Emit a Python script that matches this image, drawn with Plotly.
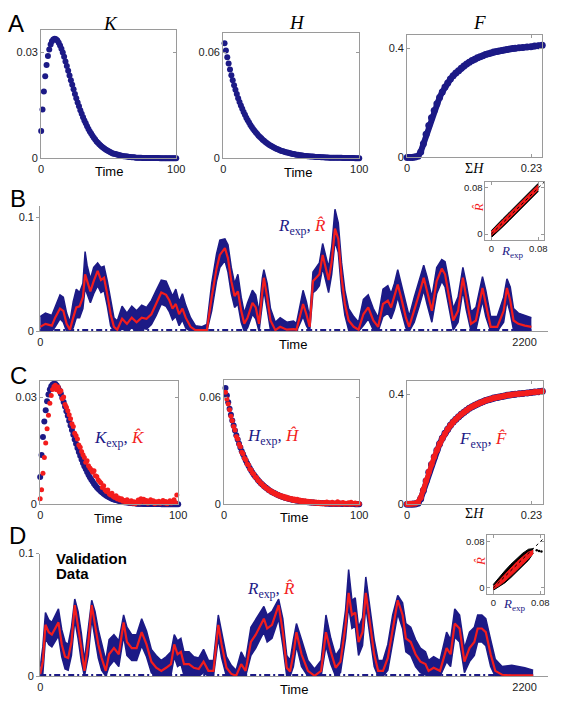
import plotly.graph_objects as go

W, H = 562, 704
NAVY = "#1c1a86"
RED = "#f31d1d"
GRAY = "#9a9a9a"
SANS = "Liberation Sans, Arial, sans-serif"
SERIF = "Liberation Serif, Times New Roman, serif"

# ---------------- Panel A / C data ----------------
K_exp = [0.0077, 0.0138, 0.0189, 0.0232, 0.0264, 0.0289, 0.0308, 0.0322, 0.0331, 0.0336, 0.0338,
         0.0337, 0.0333, 0.0327, 0.0319, 0.0310, 0.0299, 0.0287, 0.0274, 0.0261, 0.0248,
         0.0234, 0.0221, 0.0208, 0.0195, 0.0182, 0.0170, 0.0158, 0.0147, 0.0136, 0.0126,
         0.0116, 0.0107, 0.0099, 0.0091, 0.0083, 0.0076, 0.0070, 0.0064, 0.0058, 0.0053,
         0.0048, 0.0044, 0.0040, 0.0036, 0.0033, 0.0030, 0.0027, 0.0024, 0.0022, 0.0020,
         0.0018, 0.0016, 0.0014, 0.0013, 0.0012, 0.0011, 0.0010, 0.0009, 0.0008, 0.0007,
         0.0006, 0.0006, 0.0005, 0.0005, 0.0004, 0.0004, 0.0003, 0.0003, 0.0003, 0.0002,
         0.0002, 0.0002, 0.0002, 0.0002, 0.0001, 0.0001, 0.0001, 0.0001, 0.0001, 0.0001,
         0.0001, 0.0001, 0.0001, 0.0001, 0.0001, 0.0001, 0.0001, 0.0, 0.0, 0.0,
         0.0, 0.0, 0.0, 0.0, 0.0, 0.0, 0.0, 0.0, 0.0, 0.0]
t_K = list(range(len(K_exp)))

K_hat = [0.0016, 0.0041, 0.0087, 0.0131, 0.0172, 0.0212, 0.0250, 0.0283, 0.0305, 0.0322, 0.0330,
         0.0334, 0.0321, 0.0329, 0.0315, 0.0318, 0.0296, 0.0301, 0.0280, 0.0272, 0.0262,
         0.0251, 0.0240, 0.0226, 0.0218, 0.0199, 0.0192, 0.0183, 0.0166, 0.0160, 0.0148,
         0.0139, 0.0131, 0.0118, 0.0122, 0.0108, 0.0102, 0.0097, 0.0090, 0.0094, 0.0080,
         0.0078, 0.0069, 0.0064, 0.0060, 0.0047, 0.0052, 0.0040, 0.0036, 0.0040, 0.0030,
         0.0026, 0.0031, 0.0022, 0.0019, 0.0024, 0.0015, 0.0018, 0.0012, 0.0016, 0.0009,
         0.0011, 0.0006, 0.0013, 0.0008, 0.0004, 0.0010, 0.0003, 0.0007, 0.0002, 0.0005,
         0.0012, 0.0004, 0.0016, 0.0009, 0.0014, 0.0006, 0.0011, 0.0003, 0.0008, 0.0013,
         0.0005, 0.0010, 0.0002, 0.0007, 0.0004, 0.0009, 0.0003, 0.0006, 0.0011, 0.0004,
         0.0008, 0.0002, 0.0006, 0.0010, 0.0004, 0.0007, 0.0013, 0.0005, 0.0026]
t_Khat = list(range(len(K_hat)))

H_exp = [0.0651, 0.0610, 0.0572, 0.0536, 0.0502, 0.0470, 0.0441, 0.0413, 0.0387, 0.0363,
         0.0340, 0.0318, 0.0298, 0.0280, 0.0262, 0.0246, 0.0230, 0.0216, 0.0202, 0.0189,
         0.0177, 0.0166, 0.0156, 0.0146, 0.0137, 0.0128, 0.0120, 0.0113, 0.0105, 0.0099,
         0.0093, 0.0087, 0.0081, 0.0076, 0.0071, 0.0067, 0.0063, 0.0059, 0.0055, 0.0052,
         0.0048, 0.0045, 0.0042, 0.0040, 0.0037, 0.0035, 0.0033, 0.0031, 0.0029, 0.0027,
         0.0025, 0.0024, 0.0022, 0.0021, 0.0020, 0.0018, 0.0017, 0.0016, 0.0015, 0.0014,
         0.0013, 0.0012, 0.0012, 0.0011, 0.0010, 0.0010, 0.0009, 0.0008, 0.0008, 0.0007,
         0.0007, 0.0006, 0.0006, 0.0006, 0.0005, 0.0005, 0.0005, 0.0004, 0.0004, 0.0004,
         0.0003, 0.0003, 0.0003, 0.0003, 0.0003, 0.0003, 0.0003, 0.0002, 0.0002, 0.0002,
         0.0002, 0.0002, 0.0002, 0.0002, 0.0002, 0.0002, 0.0001, 0.0001, 0.0001, 0.0001]
t_H = list(range(1, len(H_exp) + 1))

H_hat = [0.0628, 0.0590, 0.0562, 0.0530, 0.0494, 0.0468, 0.0436, 0.0416, 0.0380, 0.0366,
         0.0336, 0.0322, 0.0292, 0.0284, 0.0258, 0.0250, 0.0226, 0.0220, 0.0198, 0.0193,
         0.0174, 0.0170, 0.0152, 0.0150, 0.0133, 0.0131, 0.0117, 0.0116, 0.0102, 0.0101,
         0.0090, 0.0089, 0.0078, 0.0079, 0.0068, 0.0070, 0.0060, 0.0062, 0.0052, 0.0055,
         0.0046, 0.0050, 0.0040, 0.0045, 0.0034, 0.0041, 0.0030, 0.0036, 0.0027, 0.0033,
         0.0022, 0.0030, 0.0020, 0.0028, 0.0017, 0.0024, 0.0015, 0.0022, 0.0012, 0.0020,
         0.0010, 0.0018, 0.0009, 0.0016, 0.0007, 0.0015, 0.0006, 0.0013, 0.0005, 0.0012,
         0.0004, 0.0011, 0.0003, 0.0010, 0.0002, 0.0013, 0.0003, 0.0009, 0.0002, 0.0012,
         0.0001, 0.0008, 0.0002, 0.0014, 0.0001, 0.0007, 0.0003, 0.0011, 0.0001, 0.0006,
         0.0002, 0.0009, 0.0001, 0.0012, 0.0002, 0.0005, 0.0008, 0.0001, 0.0004, 0.0003]

SumH = [0.000, 0.005, 0.010, 0.015, 0.020, 0.025, 0.030, 0.035, 0.040, 0.045, 0.050,
        0.055, 0.060, 0.065, 0.070, 0.075, 0.080, 0.085, 0.090, 0.095, 0.100,
        0.105, 0.110, 0.115, 0.120, 0.125, 0.130, 0.135, 0.140, 0.145, 0.150,
        0.155, 0.160, 0.165, 0.170, 0.175, 0.180, 0.185, 0.190, 0.195, 0.200,
        0.207, 0.214, 0.222, 0.229, 0.236, 0.243, 0.250]
F_exp = [0.000, 0.000, 0.000, 0.001, 0.004, 0.020, 0.050, 0.085, 0.117, 0.145, 0.172,
         0.197, 0.220, 0.240, 0.258, 0.273, 0.287, 0.299, 0.309, 0.318, 0.327,
         0.335, 0.342, 0.349, 0.355, 0.360, 0.365, 0.369, 0.373, 0.377, 0.380,
         0.383, 0.386, 0.388, 0.390, 0.392, 0.394, 0.396, 0.397, 0.399, 0.400,
         0.402, 0.403, 0.405, 0.406, 0.408, 0.409, 0.411]
F_hat = [0.001, 0.001, 0.002, 0.003, 0.008, 0.024, 0.053, 0.087, 0.118, 0.146, 0.173,
         0.197, 0.220, 0.240, 0.257, 0.273, 0.287, 0.299, 0.309, 0.318, 0.327,
         0.335, 0.342, 0.349, 0.355, 0.360, 0.365, 0.369, 0.373, 0.377, 0.380,
         0.383, 0.386, 0.388, 0.390, 0.392, 0.394, 0.396, 0.397, 0.399, 0.400,
         0.402, 0.403, 0.405, 0.406, 0.408, 0.409, 0.411]

# ---------------- Panel B data (training) ----------------
tB = [0, 24, 53, 68, 90, 105, 120, 135, 150, 164, 179, 194, 204, 213, 228, 243, 261, 276, 290, 305,
      320, 335, 350, 372, 394, 416, 438, 461, 483, 505, 527, 550, 572, 587, 601, 616, 631, 646, 661, 683,
      705, 735, 757, 779, 801, 816, 839, 853, 868, 883, 898, 913, 927, 942, 964, 979, 994, 1009, 1016, 1031,
      1046, 1068, 1090, 1120, 1150, 1164, 1194, 1209, 1224, 1239, 1253, 1268, 1283, 1298, 1310, 1324, 1339, 1354, 1369, 1384,
      1401, 1424, 1446, 1468, 1490, 1513, 1535, 1557, 1579, 1594, 1609, 1624, 1639, 1661, 1676, 1699, 1720, 1742, 1757, 1779,
      1801, 1824, 1839, 1853, 1876, 1898, 1920, 1935, 1957, 1979, 2009, 2024, 2046, 2076, 2105, 2120, 2135, 2150, 2172, 2201, 2231]
RB_hat = [0.004, 0.0066, 0.005, 0.012, 0.020, 0.018, 0.0066, 0.0015, 0.012, 0.021, 0.022, 0.030, 0.050, 0.044, 0.035, 0.044, 0.053, 0.045, 0.047, 0.032,
          0.015, 0.004, 0.0015, 0.011, 0.0066, 0.012, 0.008, 0.012, 0.011, 0.015, 0.024, 0.034, 0.032, 0.027, 0.020, 0.024, 0.015, 0.020, 0.012, 0.004,
          0.001, 0.001, 0.001, 0.030, 0.055, 0.067, 0.073, 0.064, 0.044, 0.031, 0.035, 0.018, 0.0066, 0.012, 0.025, 0.021, 0.0066, 0.035, 0.047, 0.030,
          0.0095, 0.001, 0.004, 0.0015, 0.002, 0.0015, 0.024, 0.015, 0.004, 0.044, 0.047, 0.050, 0.067, 0.053, 0.045, 0.061, 0.090, 0.081, 0.047, 0.024,
          0.0095, 0.004, 0.0015, 0.015, 0.021, 0.0095, 0.004, 0.024, 0.027, 0.021, 0.030, 0.041, 0.030, 0.012, 0.004, 0.018, 0.032, 0.047, 0.035, 0.018,
          0.044, 0.055, 0.050, 0.035, 0.0095, 0.018, 0.047, 0.030, 0.0066, 0.0095, 0.038, 0.024, 0.004, 0.004, 0.018, 0.038, 0.027, 0.0095, 0.0066, 0.005, 0.004]
RB_exp_hi = [0.013, 0.016, 0.014, 0.022, 0.032, 0.030, 0.016, 0.008, 0.026, 0.037, 0.034, 0.042, 0.070, 0.058, 0.046, 0.056, 0.060, 0.056, 0.057, 0.044,
             0.026, 0.012, 0.009, 0.022, 0.016, 0.022, 0.018, 0.023, 0.021, 0.027, 0.036, 0.045, 0.044, 0.038, 0.031, 0.037, 0.026, 0.033, 0.023, 0.012,
             0.005, 0.004, 0.006, 0.042, 0.068, 0.080, 0.081, 0.076, 0.056, 0.042, 0.050, 0.030, 0.016, 0.025, 0.036, 0.032, 0.017, 0.047, 0.054, 0.042,
             0.020, 0.008, 0.012, 0.008, 0.009, 0.007, 0.036, 0.026, 0.012, 0.052, 0.056, 0.060, 0.077, 0.064, 0.056, 0.074, 0.107, 0.095, 0.060, 0.036,
             0.020, 0.013, 0.008, 0.028, 0.032, 0.020, 0.012, 0.037, 0.040, 0.033, 0.042, 0.054, 0.042, 0.023, 0.013, 0.030, 0.044, 0.058, 0.048, 0.030,
             0.056, 0.063, 0.061, 0.047, 0.020, 0.030, 0.056, 0.042, 0.017, 0.021, 0.048, 0.036, 0.013, 0.013, 0.030, 0.046, 0.039, 0.020, 0.016, 0.014, 0.012]
RB_exp_lo = [0.000, 0.000, 0.000, 0.004, 0.011, 0.008, 0.000, 0.000, 0.003, 0.012, 0.012, 0.020, 0.038, 0.033, 0.025, 0.033, 0.040, 0.034, 0.036, 0.022,
             0.005, 0.000, 0.000, 0.002, 0.000, 0.003, 0.000, 0.003, 0.002, 0.006, 0.014, 0.024, 0.022, 0.017, 0.010, 0.013, 0.005, 0.010, 0.003, 0.000,
             0.000, 0.000, 0.000, 0.018, 0.044, 0.056, 0.062, 0.052, 0.033, 0.021, 0.024, 0.008, 0.000, 0.003, 0.015, 0.011, 0.000, 0.024, 0.036, 0.019,
             0.001, 0.000, 0.000, 0.000, 0.000, 0.000, 0.013, 0.005, 0.000, 0.034, 0.036, 0.040, 0.056, 0.042, 0.034, 0.050, 0.079, 0.069, 0.035, 0.014,
             0.001, 0.000, 0.000, 0.005, 0.011, 0.001, 0.000, 0.013, 0.016, 0.011, 0.019, 0.030, 0.019, 0.003, 0.000, 0.008, 0.021, 0.036, 0.024, 0.008,
             0.033, 0.044, 0.039, 0.024, 0.001, 0.008, 0.036, 0.019, 0.000, 0.001, 0.027, 0.013, 0.000, 0.000, 0.008, 0.027, 0.016, 0.001, 0.000, 0.000, 0.000]
zero_t = [0, 2231]
zero_v = [0.0008, 0.0008]

# ---------------- Panel D data (validation) ----------------
tD = [0, 12, 24, 39, 53, 68, 83, 98, 113, 127, 142, 157, 172, 187, 201, 219, 234, 249, 264, 279,
      298, 313, 335, 357, 379, 394, 416, 438, 461, 483, 505, 527, 550, 572, 594, 609, 624, 639, 653, 676,
      698, 720, 742, 764, 787, 809, 824, 846, 868, 890, 913, 933, 957, 979, 1001, 1016, 1031, 1053, 1083, 1102,
      1120, 1135, 1150, 1164, 1187, 1216, 1246, 1276, 1298, 1320, 1342, 1364, 1387, 1401, 1416, 1431, 1446, 1464, 1479, 1498,
      1517, 1535, 1557, 1579, 1601, 1624, 1646, 1661, 1683, 1705, 1727, 1750, 1764, 1787, 1816, 1846, 1864, 1883, 1905, 1927,
      1950, 1972, 1987, 2006, 2024, 2046, 2067, 2098, 2142, 2201, 2239]
RD_hat = [0.002, 0.012, 0.042, 0.036, 0.034, 0.039, 0.044, 0.026, 0.016, 0.015, 0.028, 0.058, 0.042, 0.023, 0.0045, 0.028, 0.058, 0.042, 0.026, 0.015,
          0.0045, 0.018, 0.023, 0.018, 0.044, 0.028, 0.023, 0.023, 0.036, 0.026, 0.012, 0.007, 0.0045, 0.007, 0.010, 0.026, 0.018, 0.020, 0.010, 0.010,
          0.007, 0.006, 0.012, 0.0045, 0.0045, 0.042, 0.026, 0.007, 0.002, 0.0005, 0.010, 0.0045, 0.028, 0.034, 0.042, 0.047, 0.039, 0.042, 0.058, 0.036,
          0.007, 0.004, 0.018, 0.036, 0.018, 0.0045, 0.0005, 0.0045, 0.036, 0.020, 0.007, 0.012, 0.042, 0.068, 0.050, 0.052, 0.028, 0.036, 0.068, 0.044,
          0.018, 0.0045, 0.0045, 0.015, 0.039, 0.062, 0.050, 0.031, 0.028, 0.018, 0.012, 0.010, 0.0045, 0.007, 0.0045, 0.023, 0.018, 0.043, 0.039, 0.012,
          0.023, 0.028, 0.039, 0.039, 0.036, 0.018, 0.0045, 0.0013, 0.0008, 0.0008, 0.0008]
RD_exp_hi = [0.008, 0.024, 0.052, 0.046, 0.044, 0.050, 0.055, 0.038, 0.028, 0.026, 0.040, 0.063, 0.053, 0.035, 0.013, 0.040, 0.062, 0.053, 0.038, 0.027,
             0.013, 0.030, 0.034, 0.029, 0.050, 0.040, 0.034, 0.034, 0.047, 0.037, 0.022, 0.017, 0.013, 0.016, 0.020, 0.034, 0.029, 0.031, 0.020, 0.020,
             0.016, 0.015, 0.022, 0.013, 0.013, 0.050, 0.037, 0.016, 0.009, 0.005, 0.020, 0.013, 0.040, 0.046, 0.053, 0.057, 0.050, 0.053, 0.063, 0.047,
             0.017, 0.013, 0.030, 0.043, 0.030, 0.013, 0.006, 0.013, 0.050, 0.031, 0.017, 0.023, 0.054, 0.087, 0.062, 0.064, 0.040, 0.048, 0.081, 0.056,
             0.030, 0.013, 0.013, 0.026, 0.050, 0.066, 0.060, 0.043, 0.040, 0.030, 0.023, 0.020, 0.013, 0.016, 0.013, 0.036, 0.030, 0.055, 0.050, 0.023,
             0.036, 0.040, 0.050, 0.050, 0.047, 0.030, 0.014, 0.008, 0.009, 0.007, 0.005]
RD_exp_lo = [0.000, 0.002, 0.031, 0.026, 0.024, 0.028, 0.033, 0.016, 0.006, 0.005, 0.017, 0.046, 0.031, 0.012, 0.000, 0.017, 0.047, 0.031, 0.015, 0.005,
             0.000, 0.008, 0.013, 0.008, 0.033, 0.017, 0.013, 0.013, 0.025, 0.016, 0.003, 0.000, 0.000, 0.000, 0.001, 0.016, 0.008, 0.010, 0.001, 0.001,
             0.000, 0.000, 0.003, 0.000, 0.000, 0.031, 0.015, 0.000, 0.000, 0.000, 0.001, 0.000, 0.017, 0.023, 0.031, 0.036, 0.028, 0.031, 0.047, 0.025,
             0.000, 0.000, 0.008, 0.025, 0.008, 0.000, 0.000, 0.000, 0.025, 0.010, 0.000, 0.003, 0.031, 0.057, 0.039, 0.041, 0.017, 0.025, 0.057, 0.033,
             0.008, 0.000, 0.000, 0.005, 0.028, 0.051, 0.039, 0.020, 0.017, 0.008, 0.003, 0.001, 0.000, 0.000, 0.000, 0.012, 0.008, 0.032, 0.028, 0.003,
             0.012, 0.017, 0.028, 0.028, 0.025, 0.008, 0.000, 0.000, 0.000, 0.000, 0.000]
zeroD_t = [0, 2239]

# ---------------- Inset scatter bands (R_exp vs R_hat) ----------------
insB_x = [0.000, 0.010, 0.020, 0.030, 0.040, 0.050, 0.060, 0.070, 0.080]
insB_black_lo = [-0.006, 0.003, 0.013, 0.023, 0.033, 0.043, 0.053, 0.063, 0.074]
insB_black_hi = [0.006, 0.017, 0.027, 0.037, 0.047, 0.057, 0.067, 0.077, 0.088]
insB_red_lo = [-0.002, 0.006, 0.016, 0.026, 0.036, 0.046, 0.056, 0.066, 0.077]
insB_red_hi = [0.004, 0.014, 0.024, 0.034, 0.044, 0.054, 0.064, 0.074, 0.085]

insD_x = [0.000, 0.010, 0.020, 0.030, 0.040, 0.050, 0.060, 0.068]
insD_black_lo = [-0.004, 0.002, 0.009, 0.018, 0.028, 0.038, 0.048, 0.060]
insD_black_hi = [0.006, 0.019, 0.030, 0.041, 0.051, 0.060, 0.067, 0.068]
insD_red_lo = [-0.002, 0.004, 0.012, 0.021, 0.031, 0.041, 0.051, 0.059]
insD_red_hi = [0.002, 0.013, 0.024, 0.035, 0.045, 0.054, 0.062, 0.065]
insD_out_x = [0.074, 0.078, 0.082]
insD_out_y = [0.065, 0.064, 0.063]
diag = [0.0, 0.09]

fig = go.Figure()
layout = {}


def add_axes(n, xpx, ypx, xr, yr, xt, xtt, yt, ytt, box, fs=11):
    xk = "xaxis" if n == 1 else f"xaxis{n}"
    yk = "yaxis" if n == 1 else f"yaxis{n}"
    xa = dict(domain=[xpx[0] / W, xpx[1] / W], range=xr, anchor="y" if n == 1 else f"y{n}",
              tickvals=xt, ticktext=xtt, showgrid=False, zeroline=False, showline=True,
              linecolor=GRAY, linewidth=1, tickfont=dict(size=fs, family=SANS, color="#222"))
    ya = dict(domain=[1 - ypx[1] / H, 1 - ypx[0] / H], range=yr, anchor="x" if n == 1 else f"x{n}",
              tickvals=yt, ticktext=ytt, showgrid=False, zeroline=False, showline=True,
              linecolor=GRAY, linewidth=1, tickfont=dict(size=fs, family=SANS, color="#222"))
    if box:
        for a in (xa, ya):
            a.update(mirror="ticks", ticks="inside", ticklen=3, tickcolor=GRAY)
    else:
        xa.update(ticks="")
        ya.update(ticks="outside", ticklen=3, tickcolor=GRAY)
    layout[xk] = xa
    layout[yk] = ya


def ax(n):
    return ("x", "y") if n == 1 else (f"x{n}", f"y{n}")


def dots(n, x, y, color, size, lw=0):
    xa, ya = ax(n)
    fig.add_trace(go.Scatter(x=x, y=y, mode="lines+markers" if lw else "markers", xaxis=xa, yaxis=ya,
                             cliponaxis=False, line=dict(color=color, width=lw),
                             marker=dict(color=color, size=size, line=dict(width=0)), hoverinfo="skip"))


def band(n, x, lo, hi, color, lw=1.0):
    xa, ya = ax(n)
    fig.add_trace(go.Scatter(x=x, y=lo, mode="lines", xaxis=xa, yaxis=ya,
                             line=dict(color=color, width=lw), hoverinfo="skip"))
    fig.add_trace(go.Scatter(x=x, y=hi, mode="lines", xaxis=xa, yaxis=ya, fill="tonexty",
                             fillcolor=color, line=dict(color=color, width=lw), hoverinfo="skip"))


def line(n, x, y, color, width, dash=None):
    xa, ya = ax(n)
    fig.add_trace(go.Scatter(x=x, y=y, mode="lines", xaxis=xa, yaxis=ya,
                             line=dict(color=color, width=width, dash=dash), hoverinfo="skip"))


# Axes
add_axes(1, (39, 177), (24, 155), [0, 100], [0, 0.0364], [0, 100], ["0", "100"], [0, 0.03], ["0", "0.03"], True)
add_axes(2, (225, 364), (27, 155), [0, 100], [0, 0.0711], [0, 100], ["0", "100"], [0, 0.06], ["0", "0.06"], True)
add_axes(3, (413, 551), (30, 154), [0, 0.25], [0, 0.447], [0, 0.23], ["0", "0.23"], [0, 0.4], ["0", "0.4"], True)
add_axes(4, (38, 557), (203, 331), [0, 2307], [0, 0.1103], [0, 2200], ["0", "2200"], [0, 0.1], ["0", "0.1"], False)
add_axes(5, (493, 553), (179, 238), [-0.01, 0.09], [-0.0102, 0.0903], [0, 0.08], ["0", "0.08"], [0, 0.08], ["0", "0.08"], True, 9.5)
add_axes(6, (38, 179), (381, 507), [0, 100], [0, 0.0347], [0, 100], ["0", "100"], [0, 0.03], ["0", "0.03"], True)
add_axes(7, (226, 364), (380, 507), [0, 100], [0, 0.0699], [0, 100], ["0", "100"], [0, 0.06], ["0", "0.06"], True)
add_axes(8, (413, 552), (381, 507), [0, 0.2517], [0, 0.45], [0, 0.23], ["0", "0.23"], [0, 0.4], ["0", "0.4"], True)
add_axes(9, (38, 557), (557, 682), [0, 2307], [0, 0.1001], [0, 2200], ["0", "2200"], [0, 0.1], ["0", "0.1"], False)
add_axes(10, (495, 553), (538, 598), [-0.01, 0.0867], [-0.0102, 0.0919], [0, 0.08], ["0", "0.08"], [0, 0.08], ["0", "0.08"], True, 9.5)

# Panel A
dots(1, t_K, K_exp, NAVY, 6)
dots(2, t_H, H_exp, NAVY, 6)
dots(3, SumH, F_exp, NAVY, 7, lw=6)

# Panel B
band(4, tB, RB_exp_lo, RB_exp_hi, NAVY, 1.5)
line(4, zero_t, zero_v, NAVY, 3, "6px,3px,2px,3px")
line(4, tB, RB_hat, RED, 2.2)
band(5, insB_x, insB_black_lo, insB_black_hi, "black", 1)
band(5, insB_x, insB_red_lo, insB_red_hi, RED, 1)
line(5, diag, diag, "black", 1, "dot")

# Panel C
dots(6, t_K, K_exp, NAVY, 6)
dots(6, t_Khat, K_hat, RED, 5)
dots(7, t_H, H_exp, NAVY, 6)
dots(7, t_H, H_hat, RED, 5)
dots(8, SumH, F_exp, NAVY, 7, lw=6)
dots(8, SumH, F_hat, RED, 6, lw=5)

# Panel D
band(9, tD, RD_exp_lo, RD_exp_hi, NAVY, 1.5)
line(9, zeroD_t, zero_v, NAVY, 3, "6px,3px,2px,3px")
line(9, tD, RD_hat, RED, 2.2)
band(10, insD_x, insD_black_lo, insD_black_hi, "black", 1)
band(10, insD_x, insD_red_lo, insD_red_hi, RED, 1)
line(10, diag, diag, "black", 1, "dot")
dots(10, insD_out_x, insD_out_y, "black", 2.5)

# Annotations
anns = []


def ann(text, x, y, size, color="black", family=SANS, xanchor="center", angle=0):
    anns.append(dict(text=text, x=x / W, y=1 - y / H, xref="paper", yref="paper", showarrow=False,
                     xanchor=xanchor, yanchor="middle", textangle=angle,
                     font=dict(size=size, color=color, family=family)))


HAT = "\u0302"
for letter, (lx, ly) in {"A": (13, 18), "B": (15, 196), "C": (16, 376), "D": (15, 539)}.items():
    ann(letter, lx, ly, 24)
ann("<i>K</i>", 110, 18, 19, family=SERIF)
ann("<i>H</i>", 300, 17, 19, family=SERIF)
ann("<i>F</i>", 487, 17, 19, family=SERIF)
for (x, y) in [(108, 168), (301, 169), (296, 344), (107, 521), (297, 520), (297, 695)]:
    ann("Time", x, y, 13)
ann("Σ<i>H</i>", 482, 165, 14, family=SERIF)
ann("Σ<i>H</i>", 482, 516, 14, family=SERIF)


def pair(sym):
    return (f'<i>{sym}</i><sub>exp</sub>, '
            f'<span style="color:{RED}"><i>{sym}{HAT}</i></span>')


ann(pair("R"), 279, 225, 17, NAVY, SERIF, xanchor="left")
ann(pair("K"), 91, 440, 17, NAVY, SERIF, xanchor="left")
ann(pair("H"), 247, 438, 17, NAVY, SERIF, xanchor="left")
ann(pair("F"), 464, 442, 17, NAVY, SERIF, xanchor="left")
ann(pair("R"), 247, 594, 17, NAVY, SERIF, xanchor="left")
ann("<i>R</i><sub>exp</sub>", 521, 250, 13, NAVY, SERIF)
ann("<i>R</i><sub>exp</sub>", 523, 609, 13, NAVY, SERIF)
ann(f"<i>R{HAT}</i>", 486, 205, 13, RED, SERIF, angle=-90)
ann(f"<i>R{HAT}</i>", 488, 565, 13, RED, SERIF, angle=-90)
ann("<b>Validation</b>", 52, 562, 15, xanchor="left")
ann("<b>Data</b>", 52, 577, 15, xanchor="left")

fig.update_layout(width=W, height=H, margin=dict(l=0, r=0, t=0, b=0), showlegend=False,
                  paper_bgcolor="white", plot_bgcolor="rgba(0,0,0,0)",
                  font=dict(family=SANS, size=11, color="#222"), annotations=anns, **layout)
fig.write_html("out.html", config={"displayModeBar": False},
               post_script="document.body.style.margin='0';")
